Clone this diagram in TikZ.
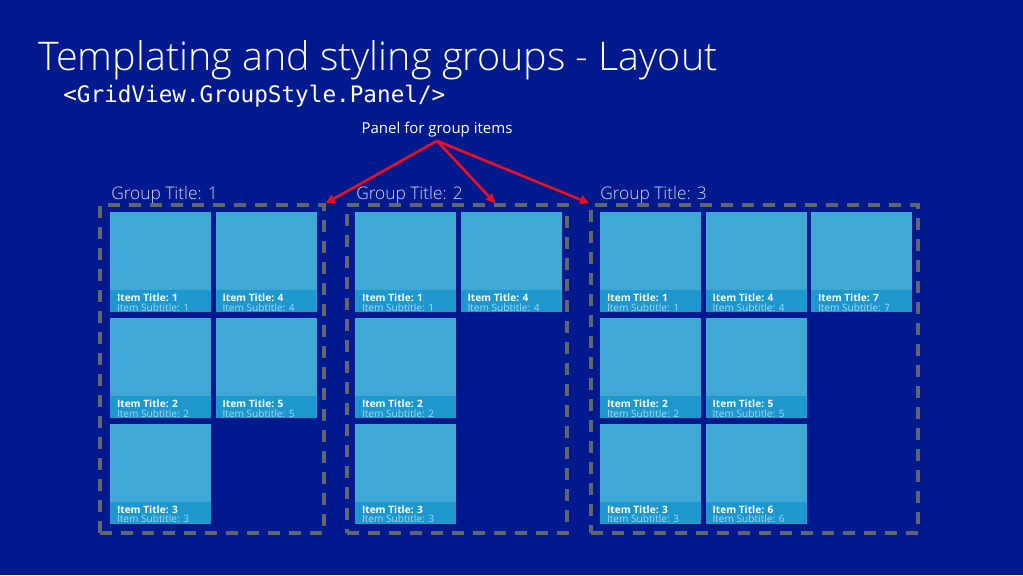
\documentclass[tikz,border=0pt]{standalone}
\usepackage{fontspec}
\setmainfont{Open Sans}
\newfontfamily\lightfont{Open Sans Light}
\newfontfamily\codefont{DejaVu Sans Mono}
\usetikzlibrary{arrows.meta, positioning}
\definecolor{bgc}{HTML}{001A8E}
\definecolor{tilec}{HTML}{3FA8D5}
\definecolor{bandc}{HTML}{1C98CF}
\definecolor{subc}{HTML}{A8D8F0}
\definecolor{dashc}{HTML}{64646E}
\definecolor{gtc}{HTML}{D6DAEA}
\definecolor{redc}{HTML}{E81123}

\begin{document}
\begin{tikzpicture}[x=0.75pt, y=-0.75pt,
  tile/.style={rectangle, fill=tilec, minimum width=75.75pt, minimum height=75pt, inner sep=0pt,
    path picture={\fill[bandc] (path picture bounding box.south west)
      rectangle ([yshift=16.5pt]path picture bounding box.south east);},
    label={[itm, anchor=south west]south west:{\textbf{Item Title: #1}\\\textcolor{subc}{Item Subtitle: #1}}}},
  itm/.style={align=left, inner xsep=5.25pt, inner ysep=0pt, yshift=0.6pt, text=white,
              font=\fontsize{7.6}{6.9}\selectfont},
  grp/.style={draw=dashc, line width=2.6pt, dash pattern=on 9pt off 6.75pt, inner sep=0pt,
              minimum height=246pt},
  gtitle/.style={anchor=base west, inner sep=0pt, text=gtc, font=\lightfont\fontsize{13}{16}\selectfont},
  ptr/.style={draw=redc, line width=2pt, -{Triangle[length=7pt, width=6.5pt]}}]
  \useasboundingbox[fill=bgc] (0,0) rectangle (1023,575);
  % heading
  \node[anchor=base west, inner sep=0pt, text=white, font=\lightfont\fontsize{29.6}{36}\selectfont]
    (title) at (38,70) {Templating and styling groups - Layout};
  \node[anchor=base west, inner sep=0pt, text=white, font=\codefont\fontsize{17}{20}\selectfont]
    (code) at (63,102) {<GridView.GroupStyle.Panel/>};
  \node[anchor=base, inner sep=3pt, text=white, font=\fontsize{11.25}{13}\selectfont]
    (panel) at (437,133) {Panel for group items};
  % group 1
  \node[grp, minimum width=168pt] (grp1) at (212,369) {};
  \node[gtitle] (gt1) at (111,199) {Group Title: 1};
  \node[tile=1] (a1) at (160.5,262) {};
  \node[tile=2] (a2) at (160.5,368) {};
  \node[tile=3] (a3) at (160.5,473.5) {};
  \node[tile=4] (a4) at (266,262) {};
  \node[tile=5] (a5) at (266,368) {};
  % group 2
  \node[grp, minimum width=165pt] (grp2) at (457,369) {};
  \node[gtitle] (gt2) at (356,199) {Group Title: 2};
  \begin{scope}[shift={(245,0)}]
    \node[tile=1] (b1) at (160.5,262) {};
    \node[tile=2] (b2) at (160.5,368) {};
    \node[tile=3] (b3) at (160.5,473.5) {};
    \node[tile=4] (b4) at (266,262) {};
  \end{scope}
  % group 3
  \node[grp, minimum width=245.25pt] (grp3) at (754.5,369) {};
  \node[gtitle] (gt3) at (600,199) {Group Title: 3};
  \begin{scope}[shift={(490,0)}]
    \node[tile=1] (c1) at (160.5,262) {};
    \node[tile=2] (c2) at (160.5,368) {};
    \node[tile=3] (c3) at (160.5,473.5) {};
    \node[tile=4] (c4) at (266,262) {};
    \node[tile=5] (c5) at (266,368) {};
    \node[tile=6] (c6) at (266,473.5) {};
    \node[tile=7] (c7) at (371.5,262) {};
  \end{scope}
  % pointers
  \draw[ptr] (panel.south) -- (grp1.north east);
  \draw[ptr] (panel.south) -- ([xshift=112.5pt]grp2.north west);
  \draw[ptr] (panel.south) -- (grp3.north west);
\end{tikzpicture}
\end{document}
